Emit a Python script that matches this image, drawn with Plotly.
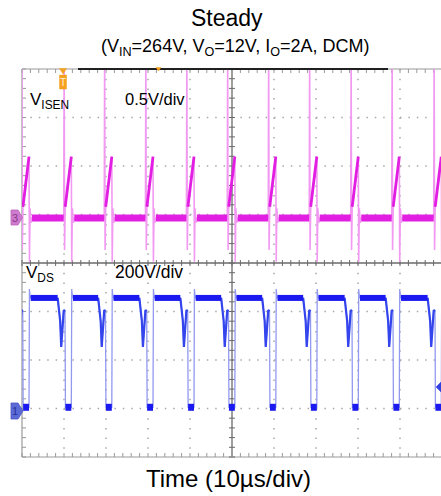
import plotly.graph_objects as go

# ---------------- data ----------------
# Turn-on instants (VDS falling edges), in microseconds from left edge
t_on_us = [0.17, 10.24, 19.88, 29.69, 39.45, 49.17, 58.93, 68.69, 78.57, 88.33, 98.33]

# V_ISEN shape around each turn-on (relative time in us, level in V)
isen_rel_t = [-0.30, -0.20, -0.10, 0.00, 0.05, 1.50, 1.60, 1.75, 1.95, 2.20]
isen_rel_v = [0.00, 1.75, -0.33, 0.02, 0.116, 0.632, -0.45, 0.10, -0.05, 0.00]
isen_base_v = 0.0

# V_DS shape around each turn-on (relative time in us, level in V)
vds_rel_t = [-1.75, -1.35, -1.15, -0.90, -0.60, -0.30, 0.00, 0.10, 1.50, 1.60, 1.72, 1.90]
vds_rel_v = [456, 395, 360, 254, 345, 406, 400, 5, 5, 493, 468, 456]
vds_high_v = 456
vds_low_v = 5

# ---------------- layout constants ----------------
W, H = 441, 496
ML, MT, MB, MR = 22, 69, 39, 0
PW, PH = W - ML - MR, H - MT - MB          # 419 x 388
PX_PER_DIV_X, PX_PER_DIV_Y = 42.0, 48.5
X_MAX = PW / PX_PER_DIV_X * 10.0           # us (10 us/div)
ISEN_GND_PX, VDS_GND_PX = 218.0, 408.5
y1_lo = -(H - MB - ISEN_GND_PX) / PX_PER_DIV_Y * 0.5
y1_range = [y1_lo, y1_lo + 8 * 0.5]
y2_lo = -(H - MB - VDS_GND_PX) / PX_PER_DIV_Y * 200
y2_range = [y2_lo, y2_lo + 8 * 200]


def fx(px):
    return (px - ML) / PW


def fy(py):
    return (H - MB - py) / PH


# ---------------- build traces from the read values ----------------
def full_wave(rel_t, rel_v):
    xs, ys = [], []
    for t0 in t_on_us:
        for rt, rv in zip(rel_t, rel_v):
            xs.append(t0 + rt)
            ys.append(rv)
    return xs, ys


isen_x, isen_y = full_wave(isen_rel_t, isen_rel_v)
vds_x, vds_y = full_wave(vds_rel_t, vds_rel_v)

# thick noisy baseline of V_ISEN and ramps
ib_x, ib_y, ir_x, ir_y = [], [], [], []
for a, b in zip(t_on_us[:-1], t_on_us[1:]):
    ib_x += [a + isen_rel_t[-1], b + isen_rel_t[0], None]
    ib_y += [isen_base_v, isen_base_v, None]
for a in t_on_us:
    ir_x += [a + isen_rel_t[4], a + isen_rel_t[5], None]
    ir_y += [isen_rel_v[4], isen_rel_v[5], None]

# thick V_DS plateau / low level, medium dips
vh_x, vh_y, vl_x, vl_y, vd_x, vd_y = [], [], [], [], [], []
for a, b in zip(t_on_us[:-1], t_on_us[1:]):
    vh_x += [a + vds_rel_t[-1], b + vds_rel_t[0], None]
    vh_y += [vds_high_v, vds_high_v, None]
for a in t_on_us:
    vl_x += [a + vds_rel_t[7], a + vds_rel_t[8], None]
    vl_y += [vds_low_v, vds_low_v, None]
    vd_x += [a + t for t in vds_rel_t[:7]] + [None]
    vd_y += vds_rel_v[:7] + [None]

MAG, MAG_LT = '#e21ee2', '#f29af2'
BLU, BLU_MD, BLU_LT = '#1a1af0', '#3445ee', '#9299ef'

fig = go.Figure()
fig.add_trace(go.Scatter(x=isen_x, y=isen_y, mode='lines', line=dict(color=MAG_LT, width=1.6),
                         yaxis='y', hoverinfo='skip'))
fig.add_trace(go.Scatter(x=ib_x, y=ib_y, mode='lines', line=dict(color=MAG, width=7),
                         yaxis='y', hoverinfo='skip'))
fig.add_trace(go.Scatter(x=ir_x, y=ir_y, mode='lines', line=dict(color=MAG, width=2.8),
                         yaxis='y', hoverinfo='skip'))
fig.add_trace(go.Scatter(x=vds_x, y=vds_y, mode='lines', line=dict(color=BLU_LT, width=1.3),
                         yaxis='y2', hoverinfo='skip'))
fig.add_trace(go.Scatter(x=vd_x, y=vd_y, mode='lines', line=dict(color=BLU_MD, width=2.2),
                         yaxis='y2', hoverinfo='skip'))
fig.add_trace(go.Scatter(x=vh_x, y=vh_y, mode='lines', line=dict(color=BLU, width=6),
                         yaxis='y2', hoverinfo='skip'))
fig.add_trace(go.Scatter(x=vl_x, y=vl_y, mode='lines', line=dict(color=BLU, width=7),
                         yaxis='y2', hoverinfo='skip'))

# ---------------- graticule ----------------
shapes = []
GRID = '#a8a8a8'
for k in range(1, 10):
    if k == 5:
        continue
    x = fx(ML + PX_PER_DIV_X * k)
    shapes.append(dict(type='line', xref='paper', yref='paper', x0=x, x1=x, y0=1, y1=0,
                       line=dict(color=GRID, width=1.5, dash='1.5px,8.2px'), layer='below'))
for j in range(1, 8):
    if j == 4:
        continue
    y = fy(MT + PX_PER_DIV_Y * j)
    shapes.append(dict(type='line', xref='paper', yref='paper', x0=0, x1=1, y0=y, y1=y,
                       line=dict(color=GRID, width=1.5, dash='1.5px,6.9px'), layer='below'))

cx, cy = ML + 5 * PX_PER_DIV_X, MT + 4 * PX_PER_DIV_Y
AX = '#6a6a6a'
shapes.append(dict(type='line', xref='paper', yref='paper', x0=fx(cx), x1=fx(cx), y0=0, y1=1,
                   line=dict(color=AX, width=1.3), layer='below'))
shapes.append(dict(type='line', xref='paper', yref='paper', x0=0, x1=1, y0=fy(cy), y1=fy(cy),
                   line=dict(color=AX, width=1.3), layer='below'))
BORDER = '#9a9a9a'
shapes.append(dict(type='line', xref='paper', yref='paper', x0=0, x1=0, y0=0, y1=1,
                   line=dict(color=BORDER, width=1.2), layer='below'))
shapes.append(dict(type='line', xref='paper', yref='paper', x0=0, x1=1, y0=1, y1=1,
                   line=dict(color=BORDER, width=1.2), layer='below'))
shapes.append(dict(type='line', xref='paper', yref='paper', x0=0, x1=1, y0=0, y1=0,
                   line=dict(color=BORDER, width=1.2), layer='below'))

# minor tick marks
p_axes, p_border = [], []
mx = PX_PER_DIV_X / 5
my = PX_PER_DIV_Y / 5
for i in range(0, 51):
    x = ML + mx * i
    p_axes.append(f"M{fx(x):.5f},{fy(cy-3):.5f}L{fx(x):.5f},{fy(cy+3):.5f}")
    p_border.append(f"M{fx(x):.5f},{fy(MT):.5f}L{fx(x):.5f},{fy(MT+4):.5f}")
    p_border.append(f"M{fx(x):.5f},{fy(H-MB):.5f}L{fx(x):.5f},{fy(H-MB-4):.5f}")
for i in range(0, 41):
    y = MT + my * i
    p_axes.append(f"M{fx(cx-3):.5f},{fy(y):.5f}L{fx(cx+3):.5f},{fy(y):.5f}")
    p_border.append(f"M{fx(ML):.5f},{fy(y):.5f}L{fx(ML+4):.5f},{fy(y):.5f}")
shapes.append(dict(type='path', xref='paper', yref='paper', path=''.join(p_axes),
                   line=dict(color=AX, width=1), layer='below'))
shapes.append(dict(type='path', xref='paper', yref='paper', path=''.join(p_border),
                   line=dict(color=BORDER, width=1), layer='below'))

# record bar on top
shapes.append(dict(type='line', xref='paper', yref='paper', x0=fx(78), x1=fx(388), y0=fy(69), y1=fy(69),
                   line=dict(color='#202020', width=2.2)))
# orange trigger position marker
ORG = '#f5a01e'
shapes.append(dict(type='path', xref='paper', yref='paper',
                   path=f"M{fx(59.5)},{fy(68.5)}L{fx(66.5)},{fy(68.5)}L{fx(63)},{fy(74)}Z",
                   fillcolor=ORG, line=dict(color=ORG, width=0.5)))
shapes.append(dict(type='rect', xref='paper', yref='paper', x0=fx(59.5), x1=fx(66.5), y0=fy(89), y1=fy(75),
                   fillcolor=ORG, line=dict(color=ORG, width=0.5)))
shapes.append(dict(type='path', xref='paper', yref='paper',
                   path=f"M{fx(156)},{fy(67.5)}L{fx(161)},{fy(67.5)}L{fx(158.5)},{fy(71)}Z",
                   fillcolor=ORG, line=dict(color=ORG, width=0.5)))
# channel markers
shapes.append(dict(type='path', xref='paper', yref='paper',
                   path=(f"M{fx(11)},{fy(210)}L{fx(18)},{fy(210)}L{fx(22.5)},{fy(217.5)}"
                         f"L{fx(18)},{fy(225)}L{fx(11)},{fy(225)}Z"),
                   fillcolor='#cf7ccf', line=dict(color='#b866b8', width=0.8)))
shapes.append(dict(type='path', xref='paper', yref='paper',
                   path=(f"M{fx(11)},{fy(403)}L{fx(18)},{fy(403)}L{fx(23)},{fy(411)}"
                         f"L{fx(18)},{fy(419)}L{fx(11)},{fy(419)}Z"),
                   fillcolor='#5c6ad6', line=dict(color='#4654c4', width=0.8)))
shapes.append(dict(type='path', xref='paper', yref='paper',
                   path=f"M{fx(441)},{fy(382)}L{fx(436)},{fy(387)}L{fx(441)},{fy(392)}Z",
                   fillcolor='#3040e0', line=dict(color='#3040e0', width=0.5)))

FONT = 'Liberation Sans, Arial, sans-serif'


def ann(text, x, y, size, xanchor='center', color='black'):
    return dict(text=text, x=fx(x), y=fy(y), xref='paper', yref='paper', showarrow=False,
                xanchor=xanchor, yanchor='middle', font=dict(family=FONT, size=size, color=color))


annotations = [
    ann('Steady', 227, 18, 23),
    ann('(V<sub>IN</sub>=264V, V<sub>O</sub>=12V, I<sub>O</sub>=2A, DCM)', 236, 48, 18),
    ann('Time (10µs/div)', 228, 478, 24),
    ann('V<sub>ISEN</sub>', 28, 101, 17, 'left'),
    ann('0.5V/div', 123, 99, 16.5, 'left'),
    ann('V<sub>DS</sub>', 24, 274, 17, 'left'),
    ann('200V/div', 113, 272, 17.5, 'left'),
    ann('T', 63, 82, 10, 'center', '#fff3dd'),
    ann('3', 15, 217.5, 11, 'center', '#8a3a8a'),
    ann('1', 15, 411, 11, 'center', '#27309a'),
]

fig.update_layout(
    width=W, height=H, margin=dict(l=ML, r=MR, t=MT, b=MB, pad=0),
    paper_bgcolor='white', plot_bgcolor='white', showlegend=False,
    xaxis=dict(range=[0, X_MAX], visible=False, fixedrange=True),
    yaxis=dict(range=y1_range, visible=False, fixedrange=True),
    yaxis2=dict(range=y2_range, visible=False, overlaying='y', fixedrange=True),
    shapes=shapes, annotations=annotations,
)

fig.write_html("out.html", post_script="document.body.style.margin='0';",
               config={'displayModeBar': False})
